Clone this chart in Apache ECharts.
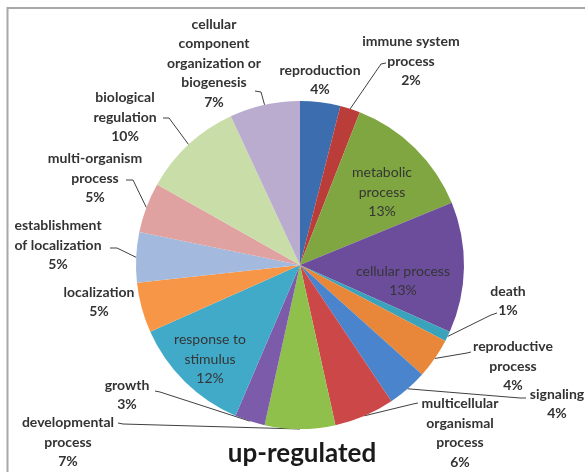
<!DOCTYPE html>
<html>
<head>
<meta charset="utf-8">
<title>up-regulated</title>
<script src="https://cdn.jsdelivr.net/npm/echarts@6/dist/echarts.min.js"></script>
<style>
  html, body { margin: 0; padding: 0; background: #ffffff; }
  #chart { width: 585px; height: 472px; }
</style>
</head>
<body>
<div id="chart"></div>
<script>
// GO categories (clockwise from 12 o'clock) and their share in percent
const categories = [
  'reproduction',
  'immune system\nprocess',
  'metabolic\nprocess',
  'cellular process',
  'death',
  'reproductive\nprocess',
  'signaling',
  'multicellular\norganismal\nprocess',
  'developmental\nprocess',
  'growth',
  'response to\nstimulus',
  'localization',
  'establishment\nof localization',
  'multi-organism\nprocess',
  'biological\nregulation',
  'cellular\ncomponent\norganization or\nbiogenesis'
];
const percents = [4, 2, 13, 13, 1, 4, 4, 6, 7, 3, 12, 5, 5, 5, 10, 7];

const chartTitle = 'up-regulated';

// Slice fills
const sliceColors = [
  '#3b6daf', '#bb3d3a', '#7fa640', '#6b4d9b', '#3aa2ba', '#e8873a',
  '#4a84cc', '#cc4848', '#8fc04c', '#7d5bab', '#40aac8', '#f79646',
  '#a3b9de', '#e0a2a1', '#c9dda9', '#b9accf'
];

// Which labels sit inside their slice
const insideLabel = [false, false, true, true, false, false, false, false,
                     false, false, true, false, false, false, false, false];

// Label centres and leader-line knees (knee, end next to the text)
const labelPlacement = [
  { at: [320, 80] },
  { at: [411, 61], guide: [[381, 64], [386, 63]] },
  { at: [382, 192] },
  { at: [403, 281] },
  { at: [508, 301], guide: [[491, 315], [497, 313]] },
  { at: [513, 366], guide: [[467, 353], [471, 352]] },
  { at: [557, 404], guide: [[520, 398], [526, 398]] },
  { at: [460, 433], guide: [[413, 404], [418, 403]] },
  { at: [68, 442], guide: [[123, 424], [118, 423]] },
  { at: [127, 395], guide: [[160, 392], [155, 391]] },
  { at: [210, 359] },
  { at: [99, 302] },
  { at: [58, 245], guide: [[117, 248], [110, 248]] },
  { at: [95, 178], guide: [[133, 180], [126, 180]] },
  { at: [125, 117], guide: [[169, 118], [163, 118]] },
  { at: [214, 63], guide: [[261, 92], [255, 91]] }
];

const FONT = 'Lato, "Open Sans", "Liberation Sans", sans-serif';
const PIE_CENTER = [300, 265];
const PIE_RADIUS = 164;

const pieData = categories.map((name, i) => ({
  name: name,
  value: percents[i],
  itemStyle: { color: sliceColors[i] },
  label: insideLabel[i]
    ? { position: 'inside', fontWeight: 'normal', color: '#353535' }
    : { position: 'outside', fontWeight: 'bold', color: '#333333' },
  labelLine: { show: !!labelPlacement[i].guide }
}));

// Point on the slice rim at the slice's mid angle (fallback for the leader start)
function rimPoint(index) {
  const total = percents.reduce((a, b) => a + b, 0);
  let before = 0;
  for (let k = 0; k < index; k++) before += percents[k];
  const frac = (before + percents[index] / 2) / total;
  const ang = frac * Math.PI * 2;
  return [PIE_CENTER[0] + PIE_RADIUS * Math.sin(ang), PIE_CENTER[1] - PIE_RADIUS * Math.cos(ang)];
}

const chart = echarts.init(document.getElementById('chart'), null, { renderer: 'canvas' });

chart.setOption({
  backgroundColor: '#ffffff',
  animation: false,
  graphic: [
    {
      type: 'rect',
      shape: { x: 7.5, y: 8, width: 700, height: 600 },
      style: { fill: 'none', stroke: '#a8a8a8', lineWidth: 2 },
      silent: true
    },
    {
      type: 'text',
      x: 302,
      y: 454,
      style: {
        text: chartTitle,
        fill: '#1a1a1a',
        font: 'bold 26px ' + FONT,
        align: 'center',
        verticalAlign: 'middle'
      },
      silent: true
    }
  ],
  series: [{
    type: 'pie',
    center: PIE_CENTER,
    radius: PIE_RADIUS,
    startAngle: 90,
    clockwise: true,
    avoidLabelOverlap: false,
    data: pieData,
    itemStyle: { borderWidth: 0 },
    label: {
      show: true,
      formatter: (p) => p.name + '\n' + p.value + '%',
      fontFamily: FONT,
      fontSize: 14,
      lineHeight: 19.5,
      align: 'center'
    },
    labelLine: {
      show: true,
      length: 10,
      length2: 10,
      lineStyle: { color: '#404040', width: 1 }
    },
    emphasis: { disabled: true },
    labelLayout: function (params) {
      const place = labelPlacement[params.dataIndex];
      const out = {
        x: place.at[0],
        y: place.at[1],
        align: 'center',
        verticalAlign: 'middle'
      };
      if (place.guide) {
        const start = (params.labelLinePoints && params.labelLinePoints[0])
          ? params.labelLinePoints[0]
          : rimPoint(params.dataIndex);
        out.labelLinePoints = [start, place.guide[0], place.guide[1]];
      }
      return out;
    }
  }]
});
</script>
</body>
</html>
